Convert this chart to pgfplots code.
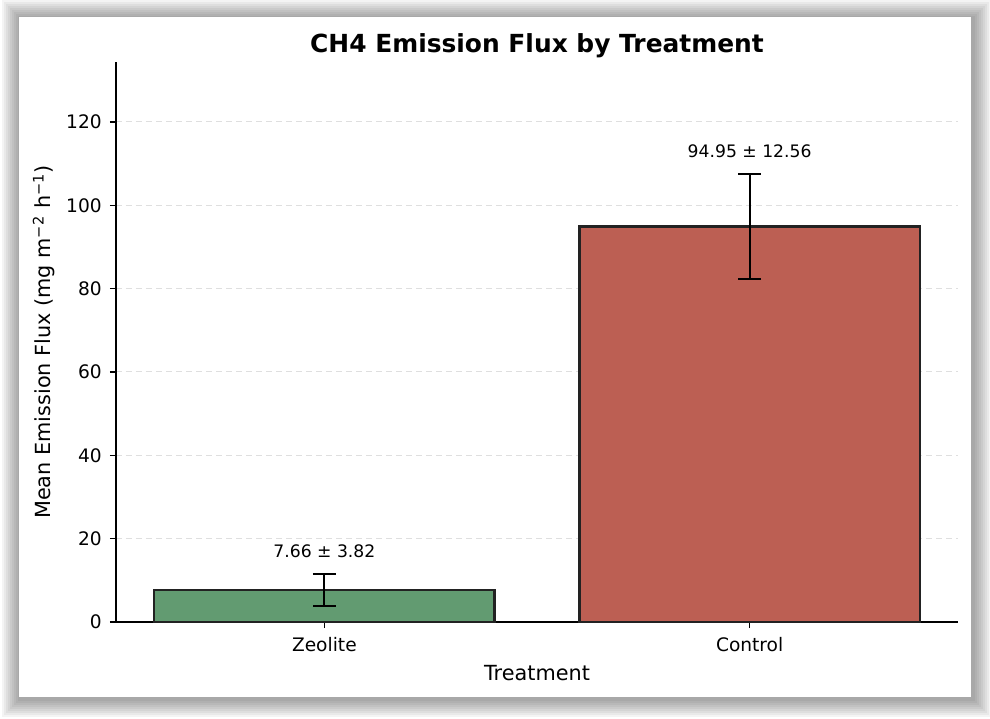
\documentclass[border=0pt]{standalone}
\usepackage{pgfplots}
\pgfplotsset{compat=1.18}
\usepackage{fontspec}
\setmainfont{DejaVu Sans}
\definecolor{zeo}{HTML}{629B71}
\definecolor{ctl}{HTML}{BC5F53}
\definecolor{edge}{HTML}{222222}
\begin{document}
\begin{tikzpicture}
% background and shadow frame
\fill[white] (-58pt,-48pt) rectangle (437pt,311pt);
\foreach \i in {1,...,9}{
  \fill[black,opacity=0.045] ({-48.5pt-\i*1.0pt+0.5pt},{-37.5pt-\i*1.0pt-1.0pt}) rectangle ({427.5pt+\i*1.0pt+1.0pt},{302.5pt+\i*1.0pt-0.5pt});
}
\fill[white] (-48.5pt,-37.5pt) rectangle (427.5pt,302.5pt);
\begin{axis}[
  at={(0,0)}, anchor=south west,
  scale only axis, width=421pt, height=280pt,
  xmin=-0.49, xmax=1.49, ymin=0, ymax=134.4,
  axis x line*=bottom, axis y line*=left,
  axis line style={line width=0.75pt, black},
  xtick={0,1}, xticklabels={Zeolite,Control},
  ytick={0,20,40,60,80,100,120},
  tick align=outside, major tick length=3pt,
  tick style={line width=0.7pt, black},
  /pgf/number format/assume math mode=true,
  ticklabel style={font=\fontsize{9.3}{11}\selectfont},
  yticklabel style={xshift=-0.6pt},
  xticklabel style={yshift=-1pt},
  ymajorgrids, grid style={gray!25, line width=0.5pt, dash pattern=on 3pt off 2pt},
  title={\bfseries CH4 Emission Flux by Treatment},
  title style={at={(axis description cs:0.5,1.007)}, anchor=center, font=\fontsize{12.45}{14}\selectfont},
  xlabel={Treatment},
  xlabel style={at={(axis description cs:0.5,-0.0911)}, anchor=center, font=\fontsize{10.4}{12}\selectfont},
  ylabel={Mean Emission Flux (mg m\textsuperscript{\char"2212 2} h\textsuperscript{\char"2212 1})},
  ylabel style={at={(axis description cs:-0.0855,0.5)}, anchor=center, font=\fontsize{10.4}{12}\selectfont},
  ybar, bar width=0.8, bar shift=0pt,
  clip=false,
]
\addplot[fill=zeo, draw=edge, line width=1.2pt,
  error bars/.cd, y dir=both, y explicit,
  error bar style={line width=1.1pt, black},
  error mark options={rotate=90, mark size=5.75pt, line width=1.1pt, black}]
  coordinates {(0,7.66) +- (0,3.82)};
\addplot[fill=ctl, draw=edge, line width=1.2pt,
  error bars/.cd, y dir=both, y explicit,
  error bar style={line width=1.1pt, black},
  error mark options={rotate=90, mark size=5.75pt, line width=1.1pt, black}]
  coordinates {(1,94.95) +- (0,12.56)};
\node[font=\fontsize{8.6}{10}\selectfont, anchor=center] at (axis cs:0,17.0) {7.66 ± 3.82};
\node[font=\fontsize{8.6}{10}\selectfont, anchor=center] at (axis cs:1,113.0) {94.95 ± 12.56};
\end{axis}
\pgfresetboundingbox
\path[use as bounding box] (-58pt,-48pt) rectangle (437pt,311pt);
\end{tikzpicture}
\end{document}
